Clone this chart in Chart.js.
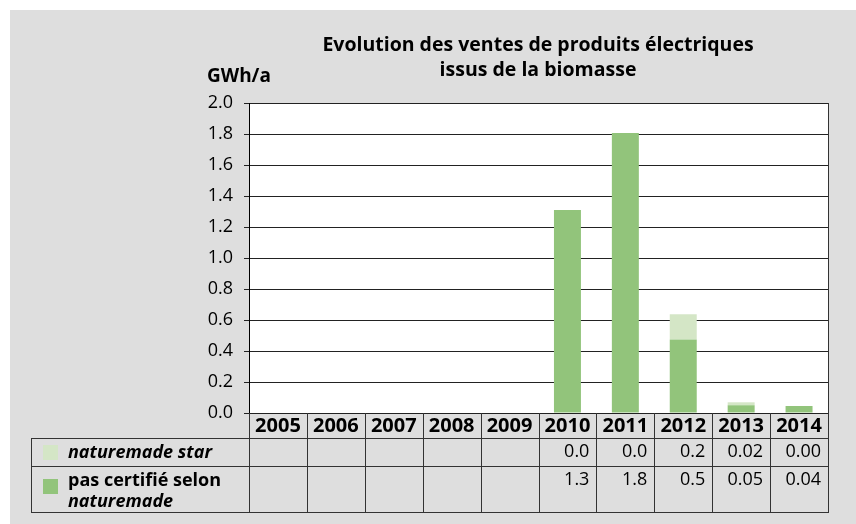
<!DOCTYPE html>
<html><head><meta charset="utf-8">
<script src="https://cdn.jsdelivr.net/npm/chart.js@4"></script>
<style>html,body{margin:0;padding:0;background:#fff}#wrap{width:856px;height:524px;position:relative}</style>
</head><body><div id="wrap"><canvas id="c" width="856" height="524"></canvas></div>
<script>
const years = ['2005','2006','2007','2008','2009','2010','2011','2012','2013','2014'];
const pasCertifie = [null,null,null,null,null,1.31,1.806,0.475,0.05,0.045];
const naturemadeStar = [null,null,null,null,null,0,0,0.162,0.019,0];
const pasCertifieLabels = ['','','','','','1.3','1.8','0.5','0.05','0.04'];
const naturemadeStarLabels = ['','','','','','0.0','0.0','0.2','0.02','0.00'];
const titleLines = ['Evolution des ventes de produits électriques','issus de la biomasse'];
const unitLabel = 'GWh/a';

const FONT = "'Open Sans', 'DejaVu Sans', sans-serif";
const DARK = '#92c47b', LIGHT = '#d4e6c6', BG = '#dedede', LINE = '#333';

const decor = {
  id: 'decor',
  beforeDraw(chart) {
    const {ctx, chartArea: a} = chart;
    ctx.save();
    ctx.fillStyle = '#fff'; ctx.fillRect(0,0,chart.width,chart.height);
    ctx.fillStyle = BG; ctx.fillRect(10,10,chart.width-10,chart.height-10);
    ctx.fillStyle = '#fff'; ctx.fillRect(a.left,a.top,a.right-a.left,a.bottom-a.top);
    ctx.restore();
  },
  afterDraw(chart) {
    const {ctx, chartArea: a} = chart;
    const xs = chart.scales.x;
    const half = (xs.getPixelForValue(1) - xs.getPixelForValue(0)) / 2;
    ctx.save();
    ctx.strokeStyle = LINE; ctx.lineWidth = 1;
    ctx.beginPath(); ctx.moveTo(a.right+0.5, a.top); ctx.lineTo(a.right+0.5, a.bottom); ctx.stroke();
    // title
    ctx.fillStyle = '#000';
    ctx.font = "bold 19.5px " + FONT;
    ctx.textAlign = 'center'; ctx.textBaseline = 'alphabetic';
    ctx.fillText(titleLines[0], 538, 51);
    ctx.fillText(titleLines[1], 538, 76);
    ctx.font = "bold 19px " + FONT;
    ctx.textAlign = 'left';
    ctx.fillText(unitLabel, 207, 82);
    // table
    const r0 = a.bottom, r1 = r0 + 25, r2 = r1 + 28, r3 = r2 + 46;
    const legL = 31;
    ctx.strokeStyle = LINE; ctx.lineWidth = 1;
    ctx.beginPath();
    [r1, r2, r3].forEach(y => { ctx.moveTo(legL, y + 0.5); ctx.lineTo(a.right + 1, y + 0.5); });
    ctx.moveTo(legL + 0.5, r1); ctx.lineTo(legL + 0.5, r3);
    for (let i = 0; i <= years.length; i++) {
      const x = Math.round(xs.getPixelForValue(i) - half) + 0.5;
      ctx.moveTo(x, r0); ctx.lineTo(x, r3 + 1);
    }
    ctx.stroke();
    ctx.fillStyle = '#000';
    ctx.textBaseline = 'middle';
    years.forEach((yr, i) => {
      const cx = xs.getPixelForValue(i);
      ctx.font = "bold 20px " + FONT; ctx.textAlign = 'center';
      ctx.fillText(yr, cx, (r0 + r1) / 2 + 1);
      ctx.font = "18px " + FONT; ctx.textAlign = 'right';
      ctx.fillText(naturemadeStarLabels[i], cx + half - 7, (r1 + r2) / 2);
      ctx.fillText(pasCertifieLabels[i], cx + half - 7, r2 + 14);
    });
    ctx.fillStyle = LIGHT; ctx.fillRect(43, r1 + 7, 15, 15);
    ctx.fillStyle = DARK; ctx.fillRect(43, r2 + 13, 15, 15);
    ctx.fillStyle = '#000'; ctx.textAlign = 'left';
    ctx.font = "italic bold 18px " + FONT;
    ctx.fillText('naturemade star', 68, (r1 + r2) / 2 + 1);
    ctx.font = "bold 18px " + FONT;
    ctx.fillText('pas certifié selon', 68, r2 + 15);
    ctx.font = "italic bold 18px " + FONT;
    ctx.fillText('naturemade', 68, r2 + 36);
    ctx.restore();
  }
};

new Chart(document.getElementById('c'), {
  type: 'bar',
  data: {
    labels: years,
    datasets: [
      {label: 'pas certifié selon naturemade', data: pasCertifie, backgroundColor: DARK, borderWidth: 0},
      {label: 'naturemade star', data: naturemadeStar, backgroundColor: LIGHT, borderWidth: 0}
    ]
  },
  options: {
    responsive: false,
    devicePixelRatio: 1,
    animation: false,
    categoryPercentage: 1,
    barPercentage: 0.466,
    layout: {padding: {top: 103, right: 28, bottom: 111, left: 0}},
    plugins: {legend: {display: false}, tooltip: {enabled: false}, title: {display: false}},
    scales: {
      x: {display: false, stacked: true},
      y: {
        stacked: true, min: 0, max: 2,
        afterFit(s) { s.width = 249; },
        grid: {color: '#222', lineWidth: 1, tickLength: 5, drawTicks: true},
        border: {display: true, color: '#000', width: 1},
        ticks: {stepSize: 0.2, padding: 11, color: '#000', font: {family: FONT, size: 18},
          callback: v => Number(v).toFixed(1)}
      }
    }
  },
  plugins: [decor]
});
</script></body></html>
